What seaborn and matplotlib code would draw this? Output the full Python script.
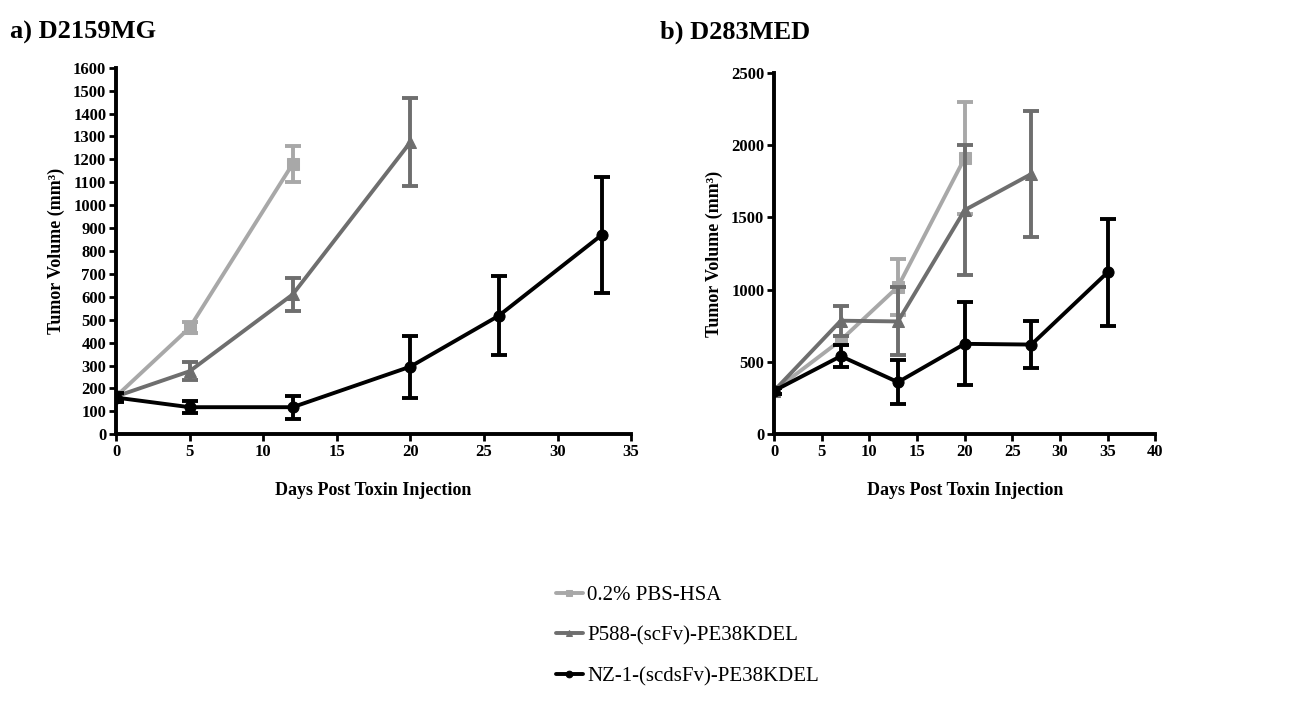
import matplotlib
matplotlib.use("Agg")
import matplotlib.pyplot as plt
import seaborn as sns
import pandas as pd

sns.set_style("ticks")
plt.rcParams['font.family'] = ['Liberation Serif', 'DejaVu Serif']
plt.rcParams['text.color'] = 'black'
plt.rcParams['axes.labelcolor'] = 'black'

series_names = ["0.2% PBS-HSA", "P588-(scFv)-PE38KDEL", "NZ-1-(scdsFv)-PE38KDEL"]
colors = ["#a8a8a8", "#6e6e6e", "#000000"]
markers = ["s", "^", "o"]

# Panel a) D2159MG
a_pbs_x = [0, 5, 12]
a_pbs_y = [165, 465, 1180]
a_pbs_e = [15, 25, 80]
a_p588_x = [0, 5, 12, 20]
a_p588_y = [165, 275, 610, 1275]
a_p588_e = [15, 40, 70, 193]
a_nz_x = [0, 5, 12, 20, 26, 33]
a_nz_y = [160, 118, 118, 295, 517, 870]
a_nz_e = [20, 25, 50, 135, 172, 255]

# Panel b) D283MED
b_pbs_x = [0, 7, 13, 20]
b_pbs_y = [300, 650, 1020, 1910]
b_pbs_e = [20, 30, 195, 390]
b_p588_x = [0, 7, 13, 20, 27]
b_p588_y = [300, 785, 780, 1550, 1800]
b_p588_e = [20, 105, 235, 450, 437]
b_nz_x = [0, 7, 13, 20, 27, 35]
b_nz_y = [300, 540, 360, 625, 620, 1120]
b_nz_e = [20, 75, 150, 288, 165, 370]

fig = plt.figure(figsize=(13.04, 7.13), dpi=100)
axa = fig.add_axes([0.089, 0.391, 0.395, 0.514])
axb = fig.add_axes([0.5936, 0.391, 0.2924, 0.507])

def draw(ax, data):
    for (x, y, e), name, c, m in zip(data, series_names, colors, markers):
        df = pd.DataFrame({"x": x, "y": y})
        sns.lineplot(data=df, x="x", y="y", ax=ax, color=c, marker=m,
                     markersize=8, markeredgecolor=c, linewidth=2.8,
                     label=name, legend=False)
        ax.errorbar(x, y, yerr=e, fmt="none", ecolor=c, elinewidth=2.8,
                    capsize=6, capthick=2.8)

draw(axa, [(a_pbs_x, a_pbs_y, a_pbs_e), (a_p588_x, a_p588_y, a_p588_e), (a_nz_x, a_nz_y, a_nz_e)])
draw(axb, [(b_pbs_x, b_pbs_y, b_pbs_e), (b_p588_x, b_p588_y, b_p588_e), (b_nz_x, b_nz_y, b_nz_e)])

axa.set_xlim(0, 35)
axa.set_ylim(0, 1600)
axa.set_xticks(range(0, 36, 5))
axa.set_yticks(range(0, 1601, 100))
axb.set_xlim(0, 40)
axb.set_ylim(0, 2500)
axb.set_xticks(range(0, 41, 5))
axb.set_yticks(range(0, 2501, 500))

for ax in (axa, axb):
    sns.despine(ax=ax)
    for s in ("left", "bottom"):
        ax.spines[s].set_linewidth(2.8)
        ax.spines[s].set_color("black")
    ax.tick_params(width=2, length=5, labelsize=12, colors="black", pad=2)
    for lab in ax.get_xticklabels() + ax.get_yticklabels():
        lab.set_fontweight("bold")
    ax.set_xlabel("Days Post Toxin Injection", fontsize=13, fontweight="bold", labelpad=16)
    ax.set_ylabel("Tumor Volume (mm³)", fontsize=13, fontweight="bold", labelpad=6)
    ax.patch.set_alpha(0)

fig.text(0.008, 0.955, "a) D2159MG", fontsize=19, fontweight="bold", va="center")
fig.text(0.506, 0.955, "b) D283MED", fontsize=19, fontweight="bold", va="center")

handles, labels = axa.get_legend_handles_labels()
fig.legend(handles, labels, loc="center", bbox_to_anchor=(0.527, 0.108),
           frameon=False, fontsize=15, handlelength=1.3, labelspacing=1.0,
           handletextpad=0.2, markerscale=0.6)

fig.savefig("out.png", dpi=100)
